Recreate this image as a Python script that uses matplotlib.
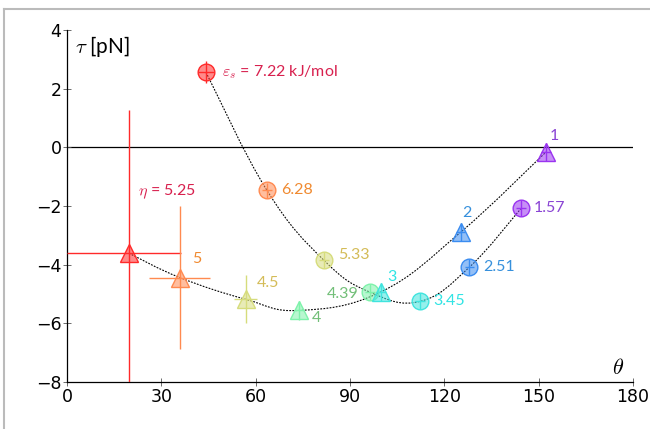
import matplotlib
matplotlib.use('Agg')
import matplotlib.pyplot as plt
from matplotlib.path import Path
from matplotlib.patches import PathPatch
from matplotlib.lines import Line2D

plt.rcParams['mathtext.fontset'] = 'cm'

# circles: varying epsilon_s
eps_vals = [7.22, 6.28, 5.33, 4.39, 3.45, 2.51, 1.57]
circ_x = [44.2, 63.6, 81.7, 96.4, 112.3, 127.9, 144.4]
circ_y = [2.56, -1.47, -3.85, -4.94, -5.25, -4.09, -2.08]
circ_xerr = [2.5, 1.5, 1.5, 1.5, 1.5, 1.5, 1.5]
circ_yerr = [0.37, 0.27, 0.27, 0.27, 0.27, 0.27, 0.27]

# triangles: varying eta
eta_vals = [5.25, 5, 4.5, 4, 3, 2, 1]
tri_x = [19.7, 35.9, 56.8, 73.9, 99.8, 125.2, 152.3]
tri_y = [-3.61, -4.44, -5.18, -5.56, -4.93, -2.89, -0.16]
tri_xerr_lo = [19.7, 9.7, 3.7, 1.5, 1.5, 1.5, 1.5]
tri_xerr_hi = [16.6, 9.7, 3.7, 1.5, 1.5, 1.5, 1.5]
tri_yerr = [4.9, 2.44, 0.82, 0.32, 0.3, 0.3, 0.3]

xticks = [0, 30, 60, 90, 120, 150, 180]
yticks = [-8, -6, -4, -2, 0, 2, 4]

colors = ['#ff2a2a', '#ff8a50', '#d6dc7c', '#7ef2aa', '#40e4de', '#3a8cf0', '#9a34f0']
txt_colors = ['#d8204e', '#f08a30', '#d4bc58', '#72bf78', '#30e4e4', '#3690dc', '#8a44d4']

# label offsets in pixels (dx, dy, ha)
circ_off = [(16, 0, 'left'), (14, 0, 'left'), (14, 5, 'left'), (-12, -2, 'right'),
            (13, 0, 'left'), (14, 0, 'left'), (13, 0, 'left')]
tri_off = [(9, 61, 'left'), (12, 19, 'left'), (11, 16, 'left'), (12, -8, 'left'),
           (6, 15, 'left'), (1, 19, 'left'), (4, 16, 'left')]

lab_font = ['Lato', 'DejaVu Sans']
tick_font = ['Liberation Sans Narrow', 'DejaVu Sans']


def smooth_path(xs, ys, k=0.2):
    pts = list(zip(xs, ys))
    verts = [pts[0]]
    codes = [Path.MOVETO]
    n = len(pts)
    for i in range(n - 1):
        p0 = pts[max(i - 1, 0)]
        p1 = pts[i]
        p2 = pts[i + 1]
        p3 = pts[min(i + 2, n - 1)]
        c1 = (p1[0] + k * (p2[0] - p0[0]), p1[1] + k * (p2[1] - p0[1]))
        c2 = (p2[0] - k * (p3[0] - p1[0]), p2[1] - k * (p3[1] - p1[1]))
        verts += [c1, c2, p2]
        codes += [Path.CURVE4] * 3
    return Path(verts, codes)


fig = plt.figure(figsize=(6.5, 4.29), dpi=100)
ax = fig.add_axes([0.103, 0.1096, 0.871, 0.8204])

ax.set_xlim(0, 180)
ax.set_ylim(-8, 4)
ax.axhline(0, color='black', lw=0.9, zorder=1)

for xs, ys in [(circ_x, circ_y), (tri_x, tri_y)]:
    ax.add_patch(PathPatch(smooth_path(xs, ys), fill=False, color='black',
                           lw=0.8, ls=(0, (1.6, 1.2)), zorder=2))

for i in range(7):
    c = colors[i]
    ax.errorbar(circ_x[i], circ_y[i], xerr=circ_xerr[i], yerr=circ_yerr[i],
                fmt='none', ecolor=c, elinewidth=1.0, zorder=3)
    ax.plot(circ_x[i], circ_y[i], 'o', ms=12, mfc=matplotlib.colors.to_rgba(c, 0.55),
            mec=c, mew=1.0, zorder=4)
    ax.errorbar(tri_x[i], tri_y[i], xerr=[[tri_xerr_lo[i]], [tri_xerr_hi[i]]],
                yerr=tri_yerr[i], fmt='none', ecolor=c, elinewidth=1.0, zorder=3,
                clip_on=True)
    ax.plot(tri_x[i], tri_y[i], '^', ms=12.5, mfc=matplotlib.colors.to_rgba(c, 0.55),
            mec=c, mew=1.0, zorder=4)

    dx, dy, ha = circ_off[i]
    if i == 0:
        s = r'$\varepsilon_s$ = %.2f kJ/mol' % eps_vals[i]
    else:
        s = '%.2f' % eps_vals[i]
    ax.annotate(s, (circ_x[i], circ_y[i]), xytext=(dx * 0.72, dy * 0.72),
                textcoords='offset points', ha=ha, va='center', fontsize=11.5,
                color=txt_colors[i], family=lab_font)

    dx, dy, ha = tri_off[i]
    if i == 0:
        s = r'$\eta$ = %.2f' % eta_vals[i]
    else:
        s = '%g' % eta_vals[i]
    ax.annotate(s, (tri_x[i], tri_y[i]), xytext=(dx * 0.72, dy * 0.72),
                textcoords='offset points', ha=ha, va='center', fontsize=11.5,
                color=txt_colors[i], family=lab_font)

for side in ['top', 'right']:
    ax.spines[side].set_visible(False)
ax.spines['left'].set_linewidth(0.9)
ax.spines['bottom'].set_linewidth(0.9)

ax.set_xticks(xticks)
ax.set_yticks(yticks)
ax.tick_params(direction='inout', length=6, width=0.6, color='#555555',
               labelsize=12.5, pad=1)
for lab in ax.get_xticklabels() + ax.get_yticklabels():
    lab.set_family(tick_font)

ax.text(0.014, 0.953, r'$\tau$ [pN]', transform=ax.transAxes, fontsize=15,
        ha='left', va='center', family=lab_font)
ax.text(0.985, 0.04, r'$\theta$', transform=ax.transAxes, fontsize=16,
        ha='right', va='center')

# grey frame at top and left
fig.add_artist(Line2D([4 / 650, 1], [1 - 9 / 429, 1 - 9 / 429], color='#bbbbbb', lw=1.5))
fig.add_artist(Line2D([4 / 650, 4 / 650], [0, 1 - 9 / 429], color='#bbbbbb', lw=1.5))

fig.savefig('out.png', dpi=100)
